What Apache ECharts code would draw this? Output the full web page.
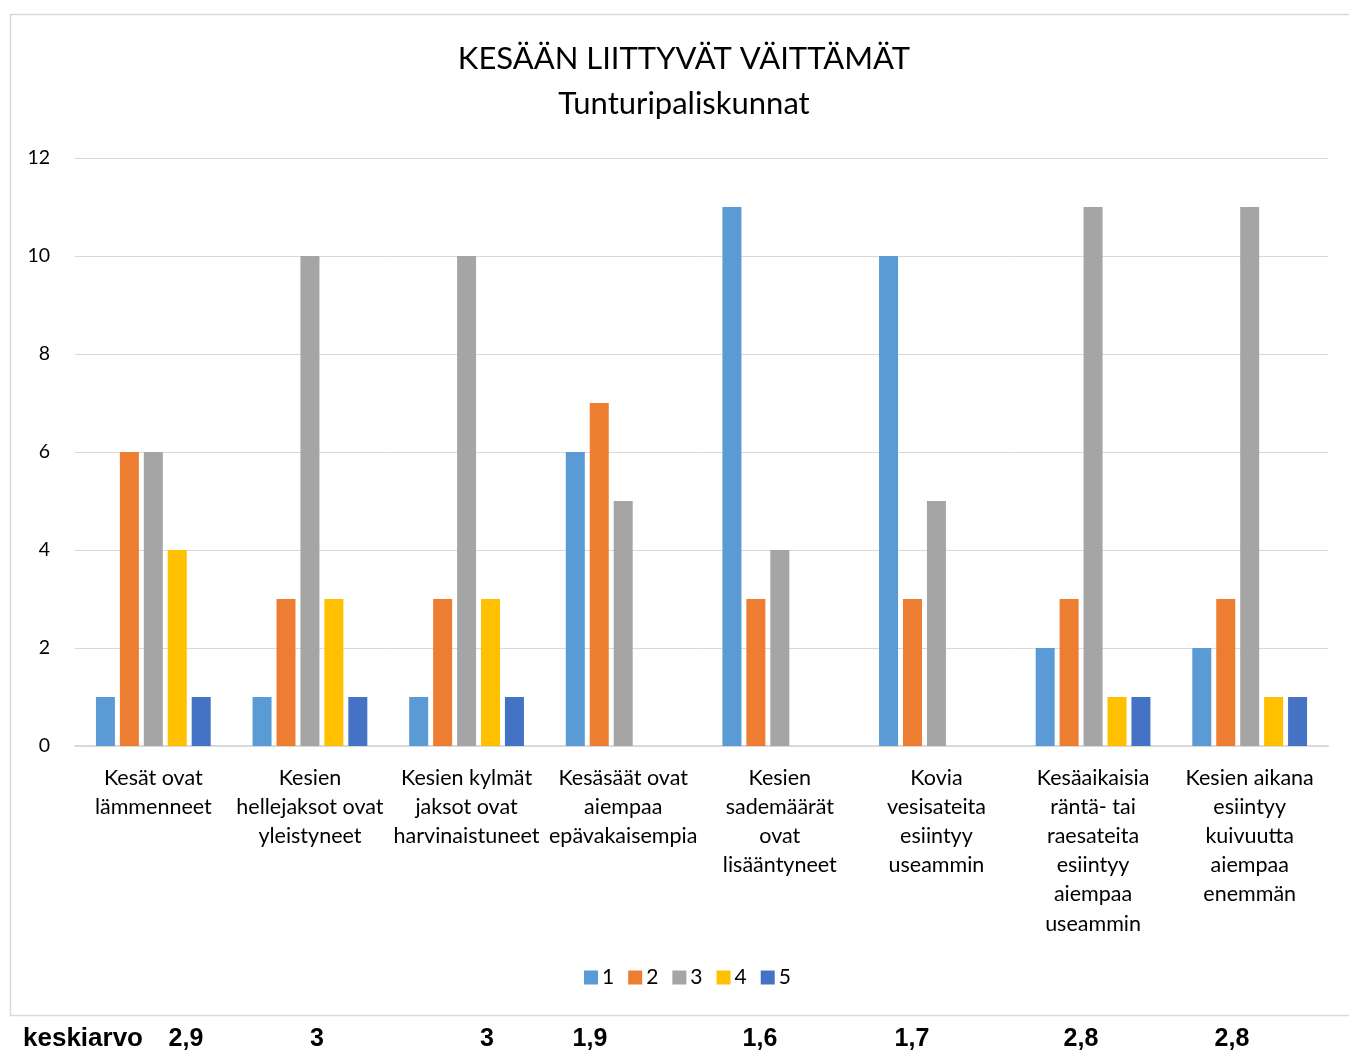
<!DOCTYPE html>
<html><head><meta charset="utf-8">
<script src="https://cdn.jsdelivr.net/npm/echarts@6/dist/echarts.min.js"></script>
<style>html,body{margin:0;padding:0;background:#fff}#c{width:1349px;height:1051px}</style>
</head><body><div id="c"></div>
<script>
const categories = [
  "Kesät ovat\nlämmenneet",
  "Kesien\nhellejaksot ovat\nyleistyneet",
  "Kesien kylmät\njaksot ovat\nharvinaistuneet",
  "Kesäsäät ovat\naiempaa\nepävakaisempia",
  "Kesien\nsademäärät\novat\nlisääntyneet",
  "Kovia\nvesisateita\nesiintyy\nuseammin",
  "Kesäaikaisia\nräntä- tai\nraesateita\nesiintyy\naiempaa\nuseammin",
  "Kesien aikana\nesiintyy\nkuivuutta\naiempaa\nenemmän"
];
const seriesNames = ["1", "2", "3", "4", "5"];
const s1 = [1, 1, 1, 6, 11, 10, 2, 2];
const s2 = [6, 3, 3, 7, 3, 3, 3, 3];
const s3 = [6, 10, 10, 5, 4, 5, 11, 11];
const s4 = [4, 3, 3, 0, 0, 0, 1, 1];
const s5 = [1, 1, 1, 0, 0, 0, 1, 1];
const meanLabel = "keskiarvo";
const means = ["2,9", "3", "3", "1,9", "1,6", "1,7", "2,8", "2,8"];
const titleLines = ["KESÄÄN LIITTYVÄT VÄITTÄMÄT", "Tunturipaliskunnat"];

const colors = ["#5B9BD5", "#ED7D31", "#A5A5A5", "#FFC000", "#4472C4"];
const meanX = [186, 317, 487, 590, 760, 912, 1081, 1232];
const FONT = "Lato";

const chart = echarts.init(document.getElementById('c'), null, {renderer: 'canvas'});
const allData = [s1, s2, s3, s4, s5];
const graphics = [
  {type: 'rect', shape: {x: 10.5, y: 14.5, width: 1345, height: 1001}, style: {fill: 'none', stroke: '#d9d9d9', lineWidth: 1.5}, z: -1},
  {type: 'text', x: 23, y: 1039, style: {text: meanLabel, font: 'bold 26px "Liberation Sans", Arial', fill: '#000', verticalAlign: 'middle'}}
];
means.forEach((m, i) => {
  graphics.push({type: 'text', x: meanX[i], y: 1039, style: {text: m, font: 'bold 25px "Liberation Sans", Arial', fill: '#000', align: 'center', verticalAlign: 'middle'}});
});
chart.setOption({
  animation: false,
  color: colors,
  title: {
    text: titleLines.join("\n"),
    left: 679, textAlign: 'center', top: 31,
    textStyle: {fontFamily: FONT, fontSize: 31, fontWeight: 'normal', color: '#000', lineHeight: 45}
  },
  legend: {
    data: seriesNames,
    bottom: 58, left: 579,
    itemWidth: 14, itemHeight: 14, itemGap: 14,
    icon: 'rect',
    textStyle: {fontFamily: FONT, fontSize: 21, color: '#000', padding: [0, 0, 0, -1]}
  },
  grid: {left: 75, right: 21, top: 158, bottom: 305},
  xAxis: {
    type: 'category', data: categories,
    axisLine: {lineStyle: {color: '#d9d9d9', width: 2}},
    axisTick: {show: false},
    axisLabel: {fontFamily: FONT, fontSize: 21.5, color: '#000', lineHeight: 29.2, interval: 0, margin: 17}
  },
  yAxis: {
    type: 'value', min: 0, max: 12, interval: 2,
    axisLine: {show: false}, axisTick: {show: false},
    splitLine: {lineStyle: {color: '#d9d9d9', width: 1}},
    axisLabel: {fontFamily: FONT, fontSize: 19.5, color: '#000', margin: 25}
  },
  series: seriesNames.map((n, i) => ({
    name: n, type: 'bar', data: allData[i],
    barWidth: 19, barGap: '26%', barCategoryGap: '26.5%'
  })),
  graphic: graphics
});
</script></body></html>
